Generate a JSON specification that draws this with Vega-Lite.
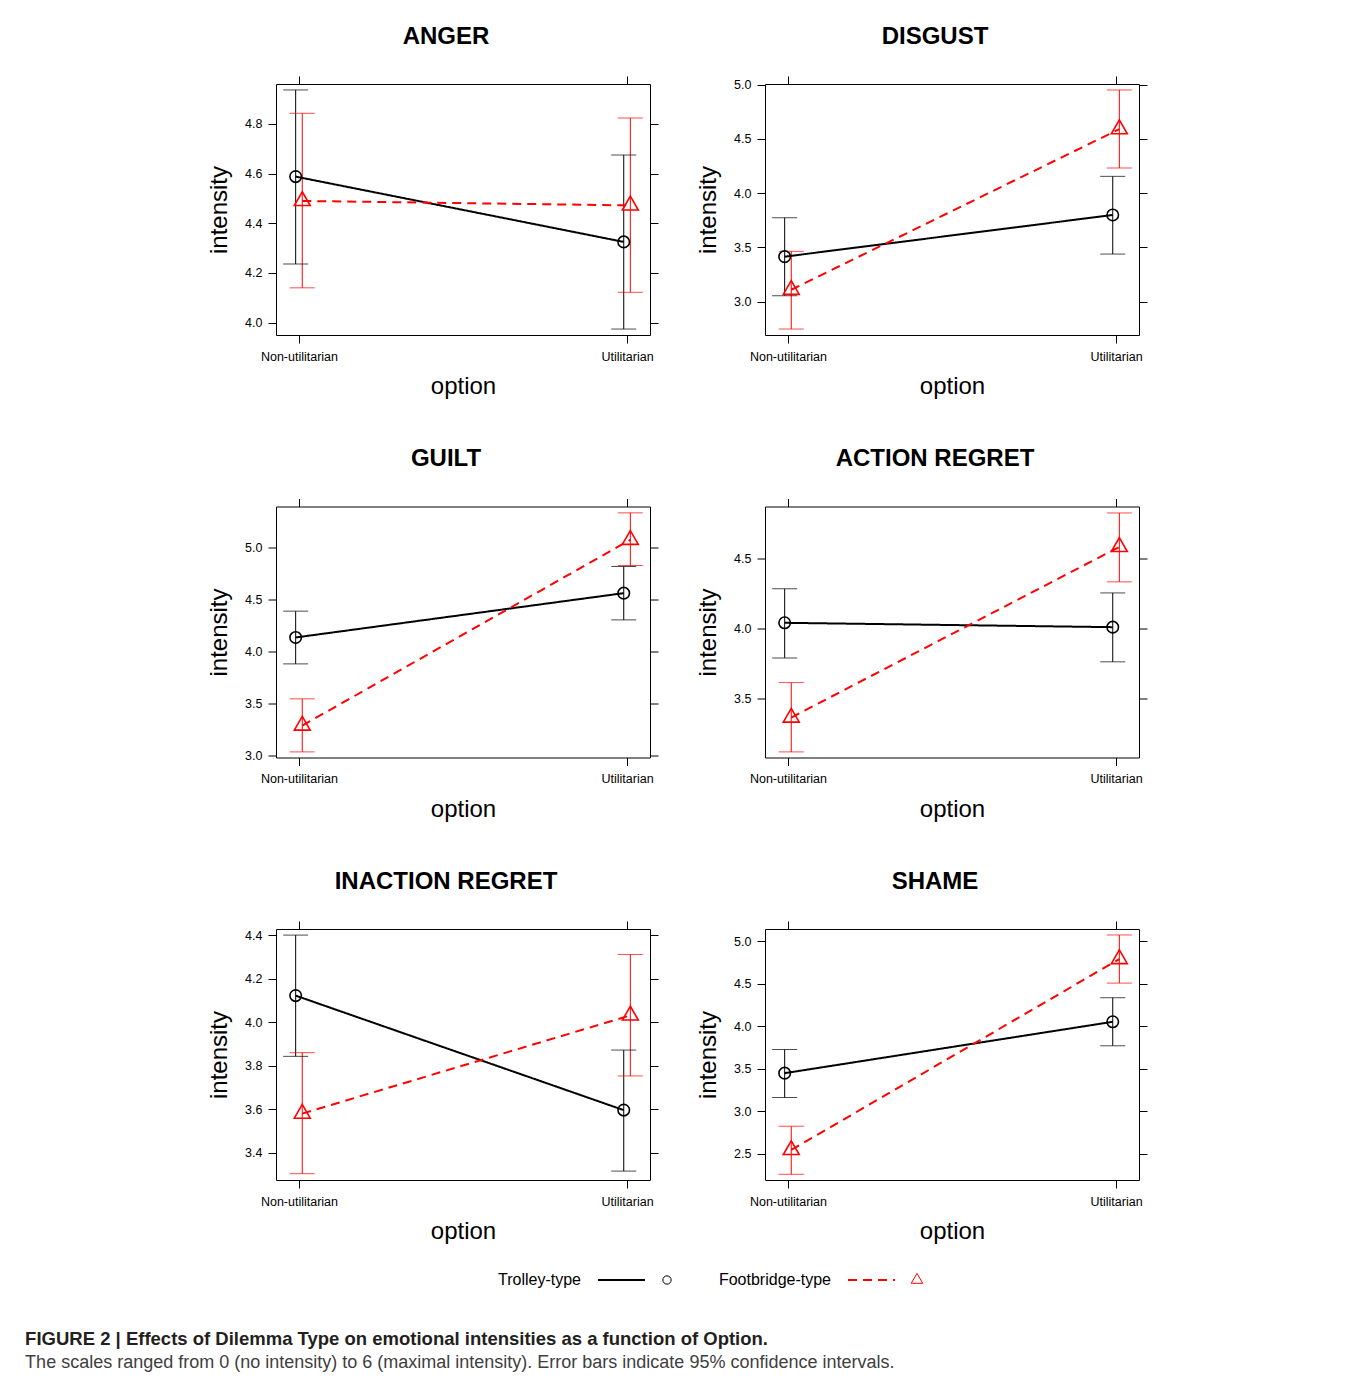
{
  "$schema": "https://vega.github.io/schema/vega-lite/v6.json",
  "padding": {"left": 25, "top": 24, "right": 10, "bottom": 0},
  "datasets": {
    "emo": [
      {"emotion": "ANGER", "option": "Non-utilitarian", "type": "Trolley-type", "mean": 4.588, "lower": 4.236, "upper": 4.937},
      {"emotion": "ANGER", "option": "Non-utilitarian", "type": "Footbridge-type", "mean": 4.490, "lower": 4.140, "upper": 4.843},
      {"emotion": "ANGER", "option": "Utilitarian", "type": "Trolley-type", "mean": 4.325, "lower": 3.974, "upper": 4.675},
      {"emotion": "ANGER", "option": "Utilitarian", "type": "Footbridge-type", "mean": 4.472, "lower": 4.122, "upper": 4.824},
      {"emotion": "DISGUST", "option": "Non-utilitarian", "type": "Trolley-type", "mean": 3.415, "lower": 3.055, "upper": 3.774},
      {"emotion": "DISGUST", "option": "Non-utilitarian", "type": "Footbridge-type", "mean": 3.110, "lower": 2.748, "upper": 3.464},
      {"emotion": "DISGUST", "option": "Utilitarian", "type": "Trolley-type", "mean": 3.799, "lower": 3.439, "upper": 4.155},
      {"emotion": "DISGUST", "option": "Utilitarian", "type": "Footbridge-type", "mean": 4.590, "lower": 4.232, "upper": 4.951},
      {"emotion": "GUILT", "option": "Non-utilitarian", "type": "Trolley-type", "mean": 4.135, "lower": 3.881, "upper": 4.388},
      {"emotion": "GUILT", "option": "Non-utilitarian", "type": "Footbridge-type", "mean": 3.288, "lower": 3.035, "upper": 3.545},
      {"emotion": "GUILT", "option": "Utilitarian", "type": "Trolley-type", "mean": 4.561, "lower": 4.304, "upper": 4.817},
      {"emotion": "GUILT", "option": "Utilitarian", "type": "Footbridge-type", "mean": 5.074, "lower": 4.827, "upper": 5.333},
      {"emotion": "ACTION REGRET", "option": "Non-utilitarian", "type": "Trolley-type", "mean": 4.042, "lower": 3.792, "upper": 4.284},
      {"emotion": "ACTION REGRET", "option": "Non-utilitarian", "type": "Footbridge-type", "mean": 3.367, "lower": 3.122, "upper": 3.616},
      {"emotion": "ACTION REGRET", "option": "Utilitarian", "type": "Trolley-type", "mean": 4.011, "lower": 3.764, "upper": 4.255},
      {"emotion": "ACTION REGRET", "option": "Utilitarian", "type": "Footbridge-type", "mean": 4.583, "lower": 4.334, "upper": 4.825},
      {"emotion": "INACTION REGRET", "option": "Non-utilitarian", "type": "Trolley-type", "mean": 4.122, "lower": 3.843, "upper": 4.400},
      {"emotion": "INACTION REGRET", "option": "Non-utilitarian", "type": "Footbridge-type", "mean": 3.580, "lower": 3.304, "upper": 3.860},
      {"emotion": "INACTION REGRET", "option": "Utilitarian", "type": "Trolley-type", "mean": 3.596, "lower": 3.316, "upper": 3.872},
      {"emotion": "INACTION REGRET", "option": "Utilitarian", "type": "Footbridge-type", "mean": 4.031, "lower": 3.753, "upper": 4.311},
      {"emotion": "SHAME", "option": "Non-utilitarian", "type": "Trolley-type", "mean": 3.450, "lower": 3.163, "upper": 3.728},
      {"emotion": "SHAME", "option": "Non-utilitarian", "type": "Footbridge-type", "mean": 2.547, "lower": 2.261, "upper": 2.826},
      {"emotion": "SHAME", "option": "Utilitarian", "type": "Trolley-type", "mean": 4.054, "lower": 3.772, "upper": 4.337},
      {"emotion": "SHAME", "option": "Utilitarian", "type": "Footbridge-type", "mean": 4.792, "lower": 4.509, "upper": 5.075}
    ]
  },
  "data": {"name": "emo"},
  "title": {
    "text": "FIGURE 2 | Effects of Dilemma Type on emotional intensities as a function of Option.",
    "subtitle": "The scales ranged from 0 (no intensity) to 6 (maximal intensity). Error bars indicate 95% confidence intervals.",
    "orient": "bottom", "anchor": "start", "frame": "bounds", "dx": -182, "offset": 40,
    "font": "Liberation Sans", "fontSize": 18.5, "fontWeight": "bold", "color": "#231f20",
    "subtitleFont": "Liberation Sans", "subtitleFontSize": 18, "subtitleColor": "#404040", "subtitlePadding": 5
  },
  "spacing": 26,
  "vconcat": [
    {
      "columns": 2,
      "spacing": {"row": 47.5, "column": 37},
      "concat": [
        {
          "width": 374, "height": 251,
          "title": {"text": "ANGER", "fontSize": 24, "fontWeight": "bold", "offset": 27, "dx": -17},
          "transform": [{"filter": {"field": "emotion", "equal": "ANGER"}}],
          "encoding": {
            "x": {"field": "option", "type": "nominal", "scale": {"type": "point", "padding": 0.07}, "axis": null},
            "xOffset": {"field": "type", "type": "nominal", "scale": {"type": "point", "domain": ["Trolley-type", "Footbridge-type"], "range": [-3.3, 3.3], "padding": 0}},
            "color": {"field": "type", "type": "nominal", "scale": {"domain": ["Trolley-type", "Footbridge-type"], "range": ["#000000", "#ff0000"]}, "legend": null}
          },
          "layer": [
            {"mark": {"type": "rule", "strokeWidth": 1},
             "encoding": {
               "x": {"field": "option", "type": "nominal", "scale": {"type": "point", "padding": 0.07}, "axis": {"orient": "bottom", "title": "option", "labelAngle": 0, "labelPadding": 7, "titlePadding": 12}},
               "y": {"field": "lower", "type": "quantitative", "scale": {"domain": [3.95, 4.961], "nice": false, "zero": false}, "axis": {"orient": "left", "title": "intensity", "values": [4.0, 4.2, 4.4, 4.6, 4.8], "format": ".1f", "labelPadding": 6, "titlePadding": 13}},
               "y2": {"field": "upper"}}},
            {"mark": {"type": "tick", "thickness": 1, "size": 25},
             "encoding": {
               "x": {"field": "option", "type": "nominal", "scale": {"type": "point", "padding": 0.07}, "axis": {"orient": "top", "labels": false, "title": null}},
               "y": {"field": "lower", "type": "quantitative", "axis": {"orient": "right", "labels": false, "title": null, "values": [4.0, 4.2, 4.4, 4.6, 4.8]}}}},
            {"mark": {"type": "tick", "thickness": 1, "size": 25},
             "encoding": {"y": {"field": "upper", "type": "quantitative", "axis": null}}},
            {"mark": {"type": "line", "strokeWidth": 2},
             "encoding": {"y": {"field": "mean", "type": "quantitative", "axis": null},
               "strokeDash": {"field": "type", "type": "nominal", "scale": {"domain": ["Trolley-type", "Footbridge-type"], "range": [[1, 0], [9, 6]]}, "legend": null}}},
            {"mark": {"type": "point", "filled": false, "strokeWidth": 1.6, "size": 132, "opacity": 1},
             "encoding": {"y": {"field": "mean", "type": "quantitative", "axis": null},
               "shape": {"field": "type", "type": "nominal", "scale": {"domain": ["Trolley-type", "Footbridge-type"], "range": ["circle", "M0,-1.6L1.386,0.8L-1.386,0.8Z"]}, "legend": null}}}
          ]
        },
        {
          "width": 374, "height": 251,
          "title": {"text": "DISGUST", "fontSize": 24, "fontWeight": "bold", "offset": 27, "dx": -17},
          "transform": [{"filter": {"field": "emotion", "equal": "DISGUST"}}],
          "encoding": {
            "x": {"field": "option", "type": "nominal", "scale": {"type": "point", "padding": 0.07}, "axis": null},
            "xOffset": {"field": "type", "type": "nominal", "scale": {"type": "point", "domain": ["Trolley-type", "Footbridge-type"], "range": [-3.3, 3.3], "padding": 0}},
            "color": {"field": "type", "type": "nominal", "scale": {"domain": ["Trolley-type", "Footbridge-type"], "range": ["#000000", "#ff0000"]}, "legend": null}
          },
          "layer": [
            {"mark": {"type": "rule", "strokeWidth": 1},
             "encoding": {
               "x": {"field": "option", "type": "nominal", "scale": {"type": "point", "padding": 0.07}, "axis": {"orient": "bottom", "title": "option", "labelAngle": 0, "labelPadding": 7, "titlePadding": 12}},
               "y": {"field": "lower", "type": "quantitative", "scale": {"domain": [2.693, 5.006], "nice": false, "zero": false}, "axis": {"orient": "left", "title": "intensity", "values": [3.0, 3.5, 4.0, 4.5, 5.0], "format": ".1f", "labelPadding": 6, "titlePadding": 13}},
               "y2": {"field": "upper"}}},
            {"mark": {"type": "tick", "thickness": 1, "size": 25},
             "encoding": {
               "x": {"field": "option", "type": "nominal", "scale": {"type": "point", "padding": 0.07}, "axis": {"orient": "top", "labels": false, "title": null}},
               "y": {"field": "lower", "type": "quantitative", "axis": {"orient": "right", "labels": false, "title": null, "values": [3.0, 3.5, 4.0, 4.5, 5.0]}}}},
            {"mark": {"type": "tick", "thickness": 1, "size": 25},
             "encoding": {"y": {"field": "upper", "type": "quantitative", "axis": null}}},
            {"mark": {"type": "line", "strokeWidth": 2},
             "encoding": {"y": {"field": "mean", "type": "quantitative", "axis": null},
               "strokeDash": {"field": "type", "type": "nominal", "scale": {"domain": ["Trolley-type", "Footbridge-type"], "range": [[1, 0], [9, 6]]}, "legend": null}}},
            {"mark": {"type": "point", "filled": false, "strokeWidth": 1.6, "size": 132, "opacity": 1},
             "encoding": {"y": {"field": "mean", "type": "quantitative", "axis": null},
               "shape": {"field": "type", "type": "nominal", "scale": {"domain": ["Trolley-type", "Footbridge-type"], "range": ["circle", "M0,-1.6L1.386,0.8L-1.386,0.8Z"]}, "legend": null}}}
          ]
        },
        {
          "width": 374, "height": 251,
          "title": {"text": "GUILT", "fontSize": 24, "fontWeight": "bold", "offset": 27, "dx": -17},
          "transform": [{"filter": {"field": "emotion", "equal": "GUILT"}}],
          "encoding": {
            "x": {"field": "option", "type": "nominal", "scale": {"type": "point", "padding": 0.07}, "axis": null},
            "xOffset": {"field": "type", "type": "nominal", "scale": {"type": "point", "domain": ["Trolley-type", "Footbridge-type"], "range": [-3.3, 3.3], "padding": 0}},
            "color": {"field": "type", "type": "nominal", "scale": {"domain": ["Trolley-type", "Footbridge-type"], "range": ["#000000", "#ff0000"]}, "legend": null}
          },
          "layer": [
            {"mark": {"type": "rule", "strokeWidth": 1},
             "encoding": {
               "x": {"field": "option", "type": "nominal", "scale": {"type": "point", "padding": 0.07}, "axis": {"orient": "bottom", "title": "option", "labelAngle": 0, "labelPadding": 7, "titlePadding": 12}},
               "y": {"field": "lower", "type": "quantitative", "scale": {"domain": [2.981, 5.394], "nice": false, "zero": false}, "axis": {"orient": "left", "title": "intensity", "values": [3.0, 3.5, 4.0, 4.5, 5.0], "format": ".1f", "labelPadding": 6, "titlePadding": 13}},
               "y2": {"field": "upper"}}},
            {"mark": {"type": "tick", "thickness": 1, "size": 25},
             "encoding": {
               "x": {"field": "option", "type": "nominal", "scale": {"type": "point", "padding": 0.07}, "axis": {"orient": "top", "labels": false, "title": null}},
               "y": {"field": "lower", "type": "quantitative", "axis": {"orient": "right", "labels": false, "title": null, "values": [3.0, 3.5, 4.0, 4.5, 5.0]}}}},
            {"mark": {"type": "tick", "thickness": 1, "size": 25},
             "encoding": {"y": {"field": "upper", "type": "quantitative", "axis": null}}},
            {"mark": {"type": "line", "strokeWidth": 2},
             "encoding": {"y": {"field": "mean", "type": "quantitative", "axis": null},
               "strokeDash": {"field": "type", "type": "nominal", "scale": {"domain": ["Trolley-type", "Footbridge-type"], "range": [[1, 0], [9, 6]]}, "legend": null}}},
            {"mark": {"type": "point", "filled": false, "strokeWidth": 1.6, "size": 132, "opacity": 1},
             "encoding": {"y": {"field": "mean", "type": "quantitative", "axis": null},
               "shape": {"field": "type", "type": "nominal", "scale": {"domain": ["Trolley-type", "Footbridge-type"], "range": ["circle", "M0,-1.6L1.386,0.8L-1.386,0.8Z"]}, "legend": null}}}
          ]
        },
        {
          "width": 374, "height": 251,
          "title": {"text": "ACTION REGRET", "fontSize": 24, "fontWeight": "bold", "offset": 27, "dx": -17},
          "transform": [{"filter": {"field": "emotion", "equal": "ACTION REGRET"}}],
          "encoding": {
            "x": {"field": "option", "type": "nominal", "scale": {"type": "point", "padding": 0.07}, "axis": null},
            "xOffset": {"field": "type", "type": "nominal", "scale": {"type": "point", "domain": ["Trolley-type", "Footbridge-type"], "range": [-3.3, 3.3], "padding": 0}},
            "color": {"field": "type", "type": "nominal", "scale": {"domain": ["Trolley-type", "Footbridge-type"], "range": ["#000000", "#ff0000"]}, "legend": null}
          },
          "layer": [
            {"mark": {"type": "rule", "strokeWidth": 1},
             "encoding": {
               "x": {"field": "option", "type": "nominal", "scale": {"type": "point", "padding": 0.07}, "axis": {"orient": "bottom", "title": "option", "labelAngle": 0, "labelPadding": 7, "titlePadding": 12}},
               "y": {"field": "lower", "type": "quantitative", "scale": {"domain": [3.082, 4.871], "nice": false, "zero": false}, "axis": {"orient": "left", "title": "intensity", "values": [3.5, 4.0, 4.5], "format": ".1f", "labelPadding": 6, "titlePadding": 13}},
               "y2": {"field": "upper"}}},
            {"mark": {"type": "tick", "thickness": 1, "size": 25},
             "encoding": {
               "x": {"field": "option", "type": "nominal", "scale": {"type": "point", "padding": 0.07}, "axis": {"orient": "top", "labels": false, "title": null}},
               "y": {"field": "lower", "type": "quantitative", "axis": {"orient": "right", "labels": false, "title": null, "values": [3.5, 4.0, 4.5]}}}},
            {"mark": {"type": "tick", "thickness": 1, "size": 25},
             "encoding": {"y": {"field": "upper", "type": "quantitative", "axis": null}}},
            {"mark": {"type": "line", "strokeWidth": 2},
             "encoding": {"y": {"field": "mean", "type": "quantitative", "axis": null},
               "strokeDash": {"field": "type", "type": "nominal", "scale": {"domain": ["Trolley-type", "Footbridge-type"], "range": [[1, 0], [9, 6]]}, "legend": null}}},
            {"mark": {"type": "point", "filled": false, "strokeWidth": 1.6, "size": 132, "opacity": 1},
             "encoding": {"y": {"field": "mean", "type": "quantitative", "axis": null},
               "shape": {"field": "type", "type": "nominal", "scale": {"domain": ["Trolley-type", "Footbridge-type"], "range": ["circle", "M0,-1.6L1.386,0.8L-1.386,0.8Z"]}, "legend": null}}}
          ]
        },
        {
          "width": 374, "height": 251,
          "title": {"text": "INACTION REGRET", "fontSize": 24, "fontWeight": "bold", "offset": 27, "dx": -17},
          "transform": [{"filter": {"field": "emotion", "equal": "INACTION REGRET"}}],
          "encoding": {
            "x": {"field": "option", "type": "nominal", "scale": {"type": "point", "padding": 0.07}, "axis": null},
            "xOffset": {"field": "type", "type": "nominal", "scale": {"type": "point", "domain": ["Trolley-type", "Footbridge-type"], "range": [-3.3, 3.3], "padding": 0}},
            "color": {"field": "type", "type": "nominal", "scale": {"domain": ["Trolley-type", "Footbridge-type"], "range": ["#000000", "#ff0000"]}, "legend": null}
          },
          "layer": [
            {"mark": {"type": "rule", "strokeWidth": 1},
             "encoding": {
               "x": {"field": "option", "type": "nominal", "scale": {"type": "point", "padding": 0.07}, "axis": {"orient": "bottom", "title": "option", "labelAngle": 0, "labelPadding": 7, "titlePadding": 12}},
               "y": {"field": "lower", "type": "quantitative", "scale": {"domain": [3.275, 4.428], "nice": false, "zero": false}, "axis": {"orient": "left", "title": "intensity", "values": [3.4, 3.6, 3.8, 4.0, 4.2, 4.4], "format": ".1f", "labelPadding": 6, "titlePadding": 13}},
               "y2": {"field": "upper"}}},
            {"mark": {"type": "tick", "thickness": 1, "size": 25},
             "encoding": {
               "x": {"field": "option", "type": "nominal", "scale": {"type": "point", "padding": 0.07}, "axis": {"orient": "top", "labels": false, "title": null}},
               "y": {"field": "lower", "type": "quantitative", "axis": {"orient": "right", "labels": false, "title": null, "values": [3.4, 3.6, 3.8, 4.0, 4.2, 4.4]}}}},
            {"mark": {"type": "tick", "thickness": 1, "size": 25},
             "encoding": {"y": {"field": "upper", "type": "quantitative", "axis": null}}},
            {"mark": {"type": "line", "strokeWidth": 2},
             "encoding": {"y": {"field": "mean", "type": "quantitative", "axis": null},
               "strokeDash": {"field": "type", "type": "nominal", "scale": {"domain": ["Trolley-type", "Footbridge-type"], "range": [[1, 0], [9, 6]]}, "legend": null}}},
            {"mark": {"type": "point", "filled": false, "strokeWidth": 1.6, "size": 132, "opacity": 1},
             "encoding": {"y": {"field": "mean", "type": "quantitative", "axis": null},
               "shape": {"field": "type", "type": "nominal", "scale": {"domain": ["Trolley-type", "Footbridge-type"], "range": ["circle", "M0,-1.6L1.386,0.8L-1.386,0.8Z"]}, "legend": null}}}
          ]
        },
        {
          "width": 374, "height": 251,
          "title": {"text": "SHAME", "fontSize": 24, "fontWeight": "bold", "offset": 27, "dx": -17},
          "transform": [{"filter": {"field": "emotion", "equal": "SHAME"}}],
          "encoding": {
            "x": {"field": "option", "type": "nominal", "scale": {"type": "point", "padding": 0.07}, "axis": null},
            "xOffset": {"field": "type", "type": "nominal", "scale": {"type": "point", "domain": ["Trolley-type", "Footbridge-type"], "range": [-3.3, 3.3], "padding": 0}},
            "color": {"field": "type", "type": "nominal", "scale": {"domain": ["Trolley-type", "Footbridge-type"], "range": ["#000000", "#ff0000"]}, "legend": null}
          },
          "layer": [
            {"mark": {"type": "rule", "strokeWidth": 1},
             "encoding": {
               "x": {"field": "option", "type": "nominal", "scale": {"type": "point", "padding": 0.07}, "axis": {"orient": "bottom", "title": "option", "labelAngle": 0, "labelPadding": 7, "titlePadding": 12}},
               "y": {"field": "lower", "type": "quantitative", "scale": {"domain": [2.194, 5.145], "nice": false, "zero": false}, "axis": {"orient": "left", "title": "intensity", "values": [2.5, 3.0, 3.5, 4.0, 4.5, 5.0], "format": ".1f", "labelPadding": 6, "titlePadding": 13}},
               "y2": {"field": "upper"}}},
            {"mark": {"type": "tick", "thickness": 1, "size": 25},
             "encoding": {
               "x": {"field": "option", "type": "nominal", "scale": {"type": "point", "padding": 0.07}, "axis": {"orient": "top", "labels": false, "title": null}},
               "y": {"field": "lower", "type": "quantitative", "axis": {"orient": "right", "labels": false, "title": null, "values": [2.5, 3.0, 3.5, 4.0, 4.5, 5.0]}}}},
            {"mark": {"type": "tick", "thickness": 1, "size": 25},
             "encoding": {"y": {"field": "upper", "type": "quantitative", "axis": null}}},
            {"mark": {"type": "line", "strokeWidth": 2},
             "encoding": {"y": {"field": "mean", "type": "quantitative", "axis": null},
               "strokeDash": {"field": "type", "type": "nominal", "scale": {"domain": ["Trolley-type", "Footbridge-type"], "range": [[1, 0], [9, 6]]}, "legend": null}}},
            {"mark": {"type": "point", "filled": false, "strokeWidth": 1.6, "size": 132, "opacity": 1},
             "encoding": {"y": {"field": "mean", "type": "quantitative", "axis": null},
               "shape": {"field": "type", "type": "nominal", "scale": {"domain": ["Trolley-type", "Footbridge-type"], "range": ["circle", "M0,-1.6L1.386,0.8L-1.386,0.8Z"]}, "legend": null}}}
          ]
        }
      ]
    },
    {
      "width": 700, "height": 20,
      "view": {"stroke": null},
      "data": {"values": [{"type": "Trolley-type"}, {"type": "Footbridge-type"}]},
      "encoding": {
        "x": {"field": "type", "type": "nominal", "scale": {"type": "point", "domain": ["Trolley-type", "Footbridge-type"], "range": [322, 572], "padding": 0}, "axis": null}
      },
      "layer": [
        {"mark": {"type": "text", "align": "right", "baseline": "middle", "dx": -17, "fontSize": 16, "font": "Liberation Sans", "color": "#000000"},
         "encoding": {"text": {"field": "type"}}},
        {"mark": {"type": "rule", "strokeWidth": 2, "x2Offset": 47},
         "encoding": {"x2": {"field": "type"},
           "color": {"field": "type", "type": "nominal", "scale": {"domain": ["Trolley-type", "Footbridge-type"], "range": ["#000000", "#ff0000"]}, "legend": null},
           "strokeDash": {"field": "type", "type": "nominal", "scale": {"domain": ["Trolley-type", "Footbridge-type"], "range": [[1, 0], [9, 6]]}, "legend": null}}},
        {"mark": {"type": "point", "filled": false, "strokeWidth": 1, "size": 69, "xOffset": 69, "opacity": 1},
         "encoding": {
           "color": {"field": "type", "type": "nominal", "scale": {"domain": ["Trolley-type", "Footbridge-type"], "range": ["#000000", "#ff0000"]}, "legend": null},
           "shape": {"field": "type", "type": "nominal", "scale": {"domain": ["Trolley-type", "Footbridge-type"], "range": ["circle", "M0,-1.6L1.386,0.8L-1.386,0.8Z"]}, "legend": null}}}
      ]
    }
  ],
  "config": {
    "font": "Liberation Sans",
    "view": {"stroke": "#000000", "strokeWidth": 1},
    "axis": {
      "domain": false, "grid": false,
      "tickColor": "#000000", "tickSize": 8, "tickWidth": 1,
      "labelColor": "#000000", "labelFont": "Liberation Sans", "labelFontSize": 12.5,
      "titleFont": "Liberation Sans", "titleFontSize": 24, "titleFontWeight": "normal", "titleColor": "#000000"
    },
    "title": {"font": "Liberation Sans", "color": "#000000"}
  }
}
